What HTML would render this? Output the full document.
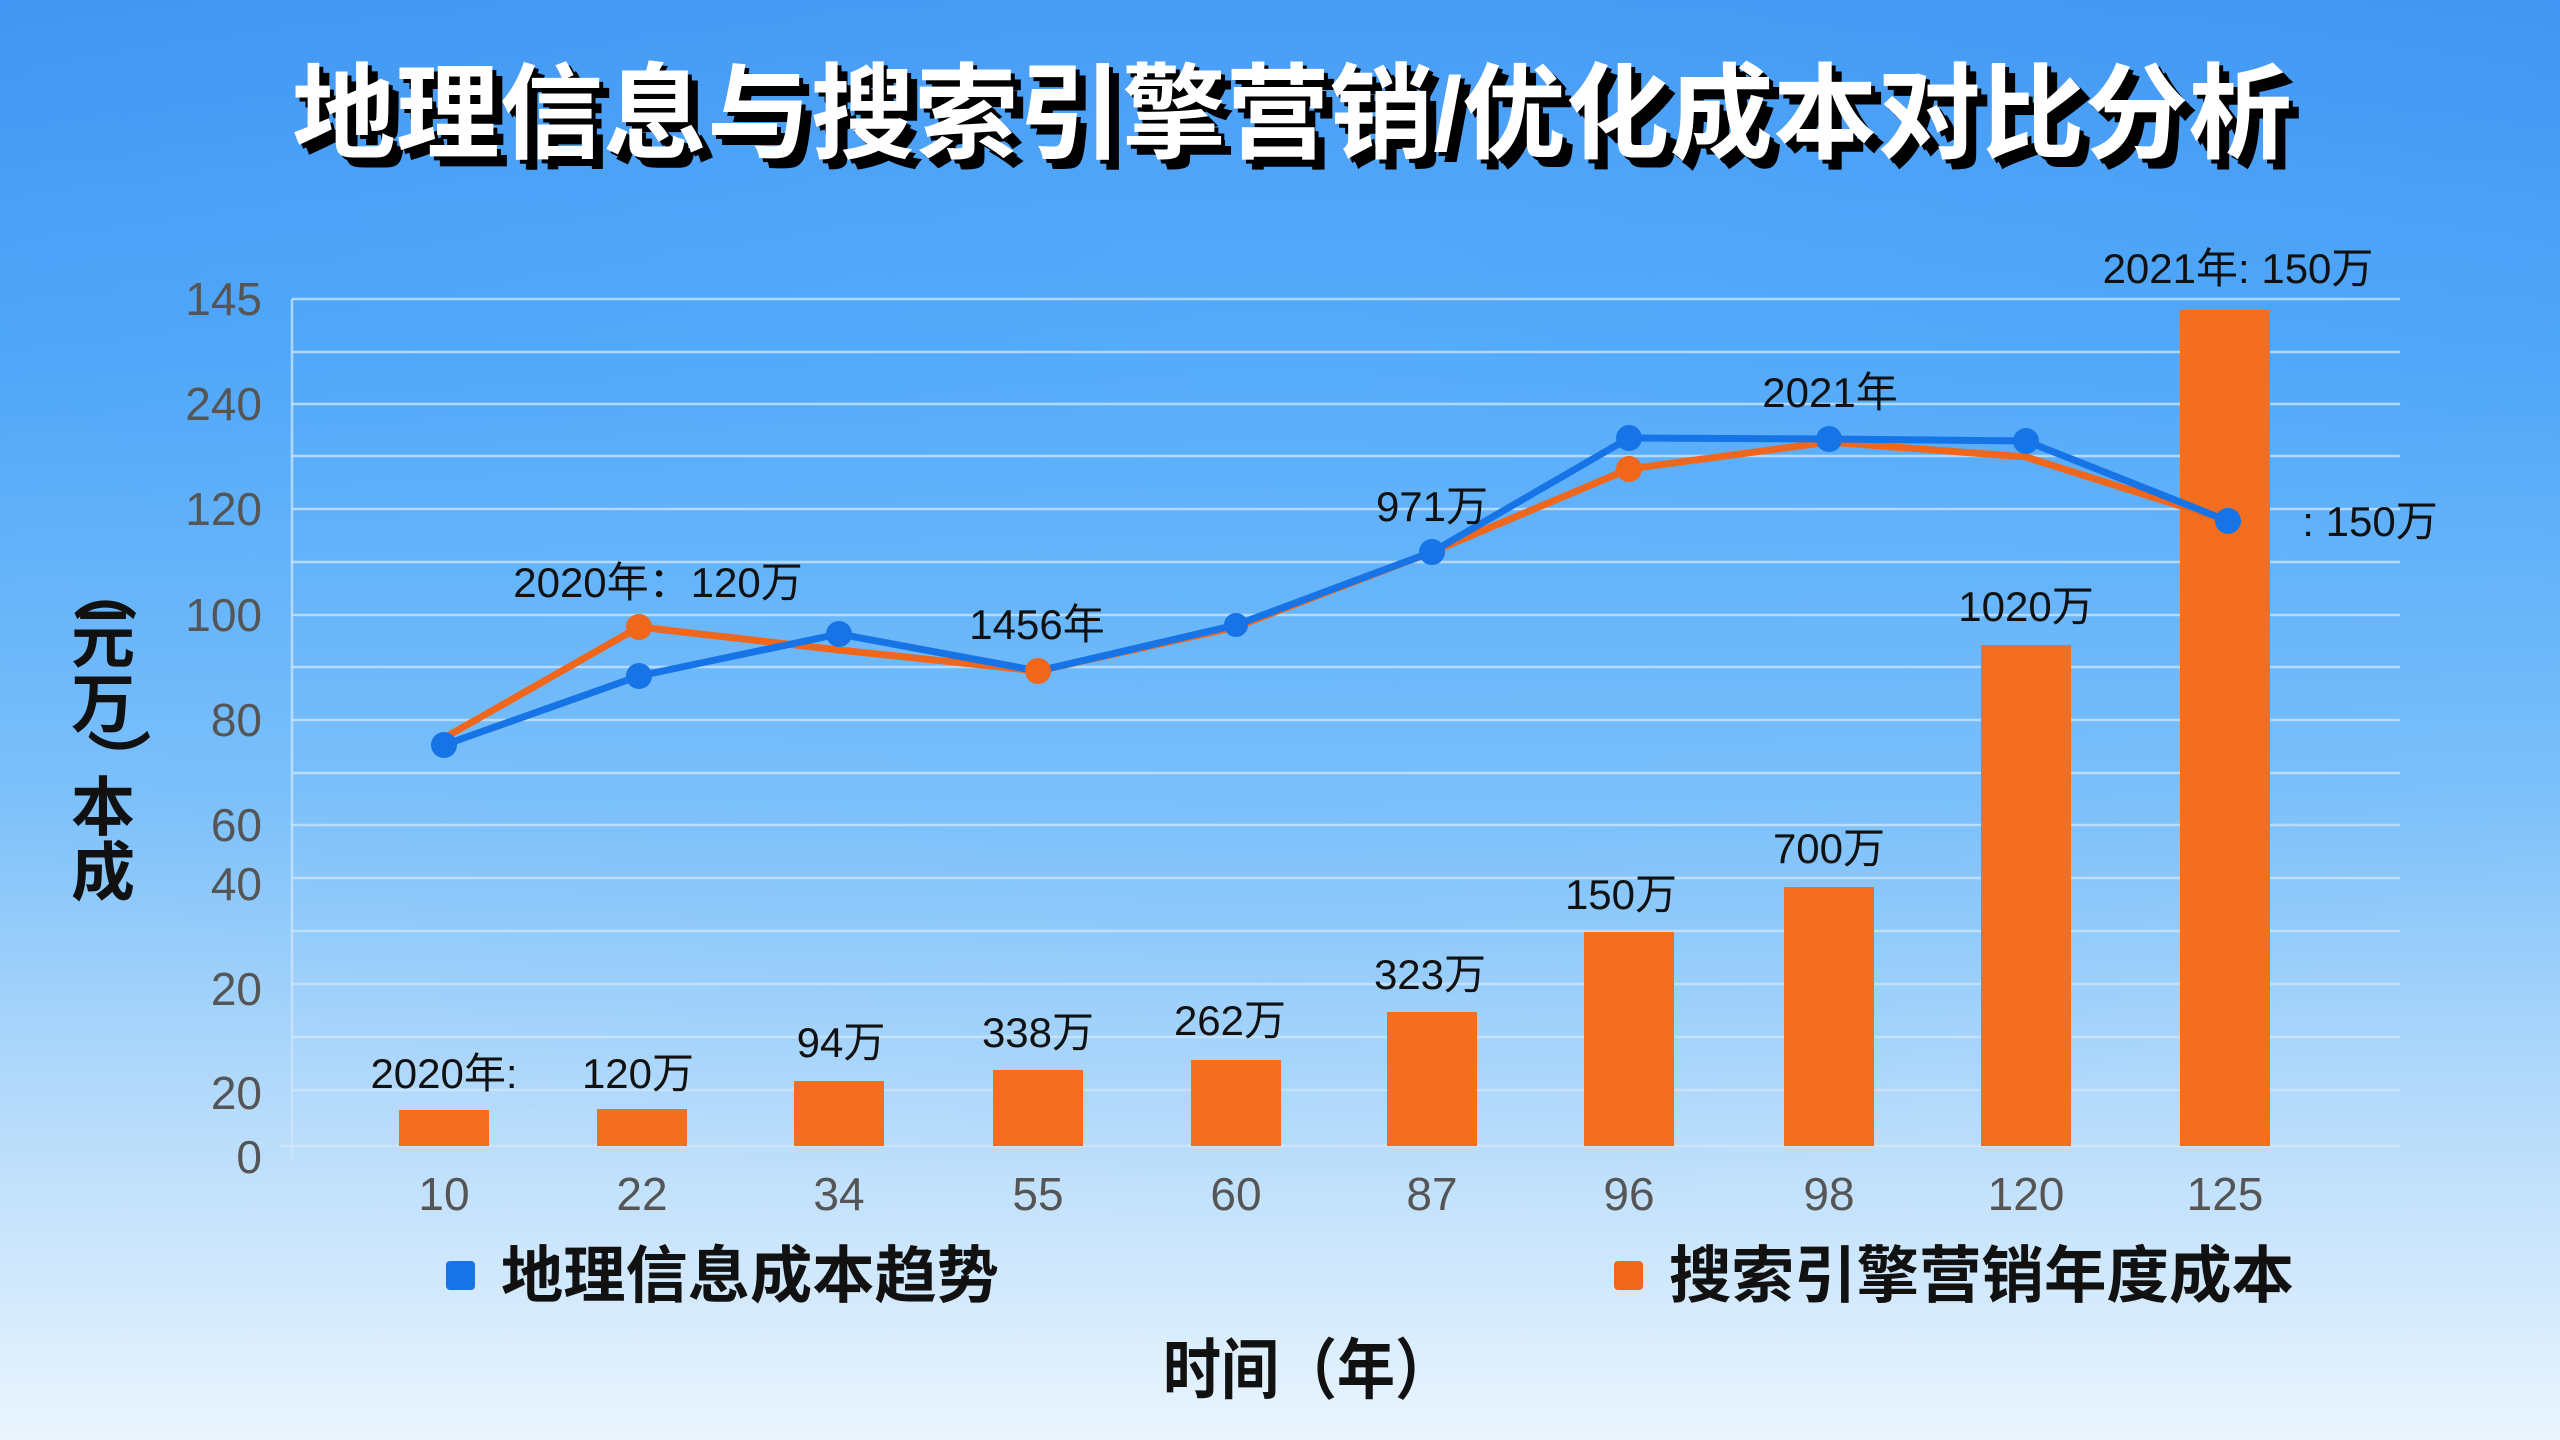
<!DOCTYPE html>
<html><head><meta charset="utf-8"><style>
html,body{margin:0;padding:0}
body{width:2560px;height:1440px;overflow:hidden;background:linear-gradient(180deg,#3f95f2 0%,#4ea6f8 25%,#7cc0fa 55%,#b8dcfb 78%,#eaf5fd 100%);}
svg{position:absolute;left:0;top:0}
</style></head><body>
<svg width="2560" height="1440" viewBox="0 0 2560 1440" xmlns="http://www.w3.org/2000/svg">
<defs>
<radialGradient id="g1" cx="0.5" cy="0.25" r="0.6"><stop offset="0" stop-color="#66b8ff" stop-opacity="0.35"/><stop offset="1" stop-color="#66b8ff" stop-opacity="0"/></radialGradient>
</defs>
<rect width="2560" height="1440" fill="url(#g1)"/>
<g font-family="'Liberation Sans','Noto Sans CJK SC',sans-serif" font-weight="bold" font-size="104">
<text x="1302" y="160" text-anchor="middle" fill="#000" textLength="2000" lengthAdjust="spacingAndGlyphs">地理信息与搜索引擎营销/优化成本对比分析</text>
<text x="1296" y="154" text-anchor="middle" fill="#000" textLength="2000" lengthAdjust="spacingAndGlyphs">地理信息与搜索引擎营销/优化成本对比分析</text>
<text x="1292" y="150" text-anchor="middle" fill="#fff" textLength="2000" lengthAdjust="spacingAndGlyphs">地理信息与搜索引擎营销/优化成本对比分析</text>
</g>
<g stroke="#cfe6fb" stroke-opacity="0.75" stroke-width="2.5">
<line x1="292" y1="299" x2="2400" y2="299"/><line x1="292" y1="352" x2="2400" y2="352"/>
<line x1="292" y1="404" x2="2400" y2="404"/><line x1="292" y1="456" x2="2400" y2="456"/>
<line x1="292" y1="509" x2="2400" y2="509"/><line x1="292" y1="562" x2="2400" y2="562"/>
<line x1="292" y1="615" x2="2400" y2="615"/><line x1="292" y1="667" x2="2400" y2="667"/>
<line x1="292" y1="720" x2="2400" y2="720"/><line x1="292" y1="773" x2="2400" y2="773"/>
<line x1="292" y1="825" x2="2400" y2="825"/><line x1="292" y1="878" x2="2400" y2="878"/>
<line x1="292" y1="931" x2="2400" y2="931"/><line x1="292" y1="984" x2="2400" y2="984"/>
<line x1="292" y1="1037" x2="2400" y2="1037"/><line x1="292" y1="1090" x2="2400" y2="1090"/>
<line x1="280" y1="1146" x2="2400" y2="1146"/>
<line x1="292" y1="299" x2="292" y2="1160"/>
</g>
<g font-family="'Liberation Sans','Noto Sans CJK SC',sans-serif" font-size="46" fill="#555" text-anchor="end">
<text x="262" y="315">145</text><text x="262" y="420">240</text><text x="262" y="525">120</text>
<text x="262" y="631">100</text><text x="262" y="736">80</text><text x="262" y="841">60</text>
<text x="262" y="900">40</text><text x="262" y="1005">20</text><text x="262" y="1109">20</text>
<text x="262" y="1173">0</text>
</g>
<g font-family="'Liberation Sans','Noto Sans CJK SC',sans-serif" font-size="46" fill="#555" text-anchor="middle">
<text x="444" y="1210">10</text><text x="642" y="1210">22</text><text x="839" y="1210">34</text>
<text x="1038" y="1210">55</text><text x="1236" y="1210">60</text><text x="1432" y="1210">87</text>
<text x="1629" y="1210">96</text><text x="1829" y="1210">98</text><text x="2026" y="1210">120</text>
<text x="2225" y="1210">125</text>
</g>
<g font-family="'Liberation Sans','Noto Sans CJK SC',sans-serif" font-weight="bold" font-size="64" fill="#111" text-anchor="middle">
<text x="103" y="612" transform="rotate(90 103 590)">（</text>
<text x="103" y="662">元</text><text x="103" y="727">万</text>
<text x="103" y="768" transform="rotate(90 103 760)">）</text>
<text x="103" y="830">本</text><text x="103" y="895">成</text>
</g>
<g fill="#f36f1f">
<rect x="399" y="1110" width="90" height="36"/><rect x="597" y="1109" width="90" height="37"/>
<rect x="794" y="1081" width="90" height="65"/><rect x="993" y="1070" width="90" height="76"/>
<rect x="1191" y="1060" width="90" height="86"/><rect x="1387" y="1012" width="90" height="134"/>
<rect x="1584" y="932" width="90" height="214"/><rect x="1784" y="887" width="90" height="259"/>
<rect x="1981" y="645" width="90" height="501"/><rect x="2180" y="310" width="90" height="836"/>
</g>
<polyline fill="none" stroke="#f0661a" stroke-width="7" stroke-linejoin="round" points="444,738 639,627 839,650 1038,671 1236,627 1432,552 1629,469 1829,442 2026,457 2228,521"/>
<polyline fill="none" stroke="#1674e6" stroke-width="7" stroke-linejoin="round" points="444,745 639,676 839,634 1038,671 1236,625 1432,552 1629,438 1829,439 2026,441 2228,521"/>
<g fill="#1674e6">
<circle cx="444" cy="745" r="13"/><circle cx="639" cy="676" r="13"/><circle cx="839" cy="634" r="13"/>
<circle cx="1236" cy="625" r="12"/><circle cx="1432" cy="552" r="13"/><circle cx="1629" cy="438" r="13"/>
<circle cx="1829" cy="439" r="13"/><circle cx="2026" cy="441" r="13"/><circle cx="2228" cy="521" r="13"/>
</g>
<g fill="#f0661a">
<circle cx="639" cy="627" r="13"/><circle cx="1038" cy="671" r="13"/><circle cx="1629" cy="469" r="13"/>
</g>
<g font-family="'Liberation Sans','Noto Sans CJK SC',sans-serif" font-size="42" fill="#111" text-anchor="middle">
<text x="444" y="1088">2020年:</text><text x="638" y="1088">120万</text>
<text x="841" y="1057">94万</text><text x="1038" y="1047">338万</text><text x="1230" y="1035">262万</text>
<text x="1430" y="989">323万</text><text x="1621" y="909">150万</text><text x="1829" y="863">700万</text>
<text x="2026" y="621">1020万</text><text x="2238" y="283">2021年: 150万</text>
<text x="658" y="597">2020年：120万</text><text x="1037" y="639">1456年</text>
<text x="1432" y="521">971万</text><text x="1830" y="407">2021年</text>
<text x="2370" y="536">: 150万</text>
</g>
<rect x="446" y="1261" width="29" height="29" rx="4" fill="#1674e6"/>
<rect x="1614" y="1261" width="29" height="29" rx="4" fill="#f0661a"/>
<g font-family="'Liberation Sans','Noto Sans CJK SC',sans-serif" font-weight="bold" font-size="62" fill="#111">
<text x="501" y="1297" textLength="498" lengthAdjust="spacingAndGlyphs">地理信息成本趋势</text>
<text x="1669" y="1297" textLength="625" lengthAdjust="spacingAndGlyphs">搜索引擎营销年度成本</text>
<text x="1163" y="1393" font-size="66" textLength="290" lengthAdjust="spacingAndGlyphs">时间（年）</text>
</g>
</svg>
</body></html>
